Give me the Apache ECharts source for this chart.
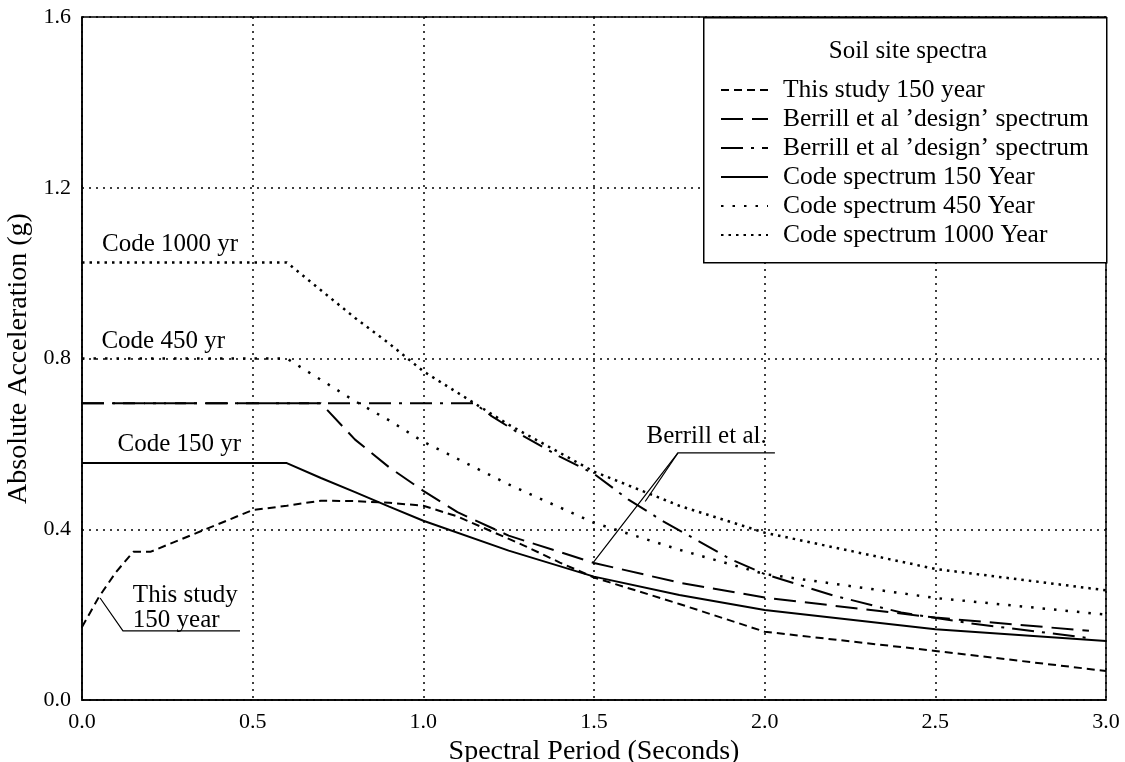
<!DOCTYPE html>
<html>
<head>
<meta charset="utf-8">
<script src="https://cdn.jsdelivr.net/npm/echarts@6/dist/echarts.min.js"></script>
<style>
  html, body { margin: 0; padding: 0; background: #fff; }
  #container { width: 1125px; height: 762px; }
</style>
</head>
<body>
<div id="container"></div>
<script>
var FONT = 'Liberation Serif';

// tick labels
var xTicks = ['0.0', '0.5', '1.0', '1.5', '2.0', '2.5', '3.0'];
var yTicks = ['0.0', '0.4', '0.8', '1.2', '1.6'];

// This study 150 year
var studyT = [0, 0.05, 0.1, 0.15, 0.2, 0.5, 0.6, 0.7, 0.8, 0.9, 1.0, 1.1, 1.2, 1.3, 1.4, 1.5, 1.75, 2.0, 2.5, 3.0];
var studyG = [0.171, 0.242, 0.30, 0.347, 0.347, 0.445, 0.455, 0.467, 0.466, 0.462, 0.455, 0.43, 0.395, 0.36, 0.322, 0.287, 0.225, 0.16, 0.115, 0.068];

// Berrill et al 'design' spectrum (long dash)
var berrillAT = [0, 0.7, 0.8, 0.9, 1.0, 1.1, 1.25, 1.5, 1.75, 2.0, 2.5, 2.95];
var berrillAG = [0.695, 0.695, 0.61, 0.545, 0.49, 0.44, 0.385, 0.321, 0.275, 0.24, 0.193, 0.162];

// Berrill et al 'design' spectrum (dash-dot)
var berrillBT = [0, 1.15, 1.2, 1.3, 1.4, 1.5, 1.6, 1.7, 1.8, 1.9, 2.0, 2.2, 2.4, 2.6, 2.8, 2.95];
var berrillBG = [0.695, 0.695, 0.665, 0.615, 0.57, 0.53, 0.47, 0.42, 0.375, 0.33, 0.295, 0.245, 0.205, 0.18, 0.16, 0.145];

// Code spectra
var codeT = [0, 0.6, 0.7, 0.8, 0.9, 1.0, 1.25, 1.5, 1.75, 2.0, 2.5, 3.0];
var code150 = [0.555, 0.555, 0.52, 0.487, 0.453, 0.42, 0.35, 0.289, 0.246, 0.211, 0.166, 0.138];
var code450 = [0.80, 0.80, 0.75, 0.70, 0.655, 0.605, 0.505, 0.415, 0.352, 0.295, 0.239, 0.20];
var code1000 = [1.025, 1.025, 0.96, 0.895, 0.835, 0.77, 0.645, 0.535, 0.455, 0.392, 0.307, 0.257];

// in-plot labels
var noteText = ['Code 1000 yr', 'Code 450 yr', 'Code 150 yr', 'This study\n150 year', 'Berrill et al.'];
var noteT = [0.258, 0.238, 0.285, 0.149, 1.83];
var noteG = [1.067, 0.84, 0.598, 0.215, 0.617];
var noteAlign = ['center', 'center', 'center', 'left', 'center'];

// leader lines
var leaderStudy = [[0.463, 0.162], [0.12, 0.162], [0.053, 0.239]];
var leaderBerrill = [[2.03, 0.579], [1.746, 0.579], [1.497, 0.321]];
var leaderBerrillMid = [[1.746, 0.579], [1.65, 0.465]];

var legendNames = [
    'This study 150 year',
    'Berrill et al ’design’ spectrum',
    'Berrill et al ’design’ spectrum ',
    'Code spectrum 150 Year',
    'Code spectrum 450 Year',
    'Code spectrum 1000 Year'
];

function pairs(xs, ys) {
    var out = [];
    for (var i = 0; i < xs.length; i++) {
        out.push([xs[i], ys[i]]);
    }
    return out;
}

function lineSeries(name, data, type, width) {
    return {
        name: name,
        type: 'line',
        data: data,
        symbol: 'none',
        smooth: false,
        silent: true,
        lineStyle: { color: '#000', width: width, type: type, cap: 'butt' },
        itemStyle: { color: '#000' },
        z: 2
    };
}

var dom = document.getElementById('container');
var myChart = echarts.init(dom, null, { renderer: 'canvas' });

var noteData = [];
for (var i = 0; i < noteText.length; i++) {
    noteData.push({
        value: [noteT[i], noteG[i]],
        name: noteText[i],
        label: { align: noteAlign[i] }
    });
}

var option = {
    animation: false,
    backgroundColor: '#fff',
    textStyle: { fontFamily: FONT, color: '#000' },
    grid: {
        left: 82, right: 19, top: 17, bottom: 62,
        outerBoundsMode: 'none',
        containLabel: false,
        show: true, borderColor: '#000', borderWidth: 1.5, backgroundColor: 'transparent'
    },
    title: {
        text: 'Soil site spectra',
        left: 903, top: 34,
        textAlign: 'center',
        textStyle: { fontFamily: FONT, fontSize: 25, fontWeight: 'normal', color: '#000' },
        z: 10
    },
    legend: {
        data: legendNames,
        orient: 'vertical',
        left: 720, top: 77,
        padding: 0,
        itemWidth: 47, itemHeight: 14,
        itemGap: 3,
        selectedMode: false,
        itemStyle: { opacity: 0 },
        textStyle: {
            fontFamily: FONT, fontSize: 25.5, lineHeight: 25, color: '#000',
            padding: [0, 0, 0, 10]
        },
        z: 10
    },
    graphic: [{
        type: 'rect',
        left: 703, top: 17,
        shape: { width: 403, height: 245 },
        style: { fill: '#fff', stroke: '#000', lineWidth: 1.5 },
        z: 5
    }],
    xAxis: {
        type: 'value', min: 0, max: 3, interval: 0.5,
        name: 'Spectral Period (Seconds)', nameLocation: 'middle', nameGap: 32,
        nameTextStyle: { fontFamily: FONT, fontSize: 28, color: '#000' },
        axisLine: { show: true, lineStyle: { color: '#000', width: 1.5 } },
        axisTick: { show: false },
        axisLabel: {
            fontFamily: FONT, fontSize: 22, color: '#000', margin: 11,
            formatter: function(v) { return xTicks[Math.round(v / 0.5)]; }
        },
        splitLine: { show: true, lineStyle: { color: '#000', width: 1.5, type: [2, 5] } }
    },
    yAxis: {
        type: 'value', min: 0, max: 1.6, interval: 0.4,
        name: 'Absolute Acceleration (g)', nameLocation: 'middle', nameGap: 43,
        nameTextStyle: { fontFamily: FONT, fontSize: 28, color: '#000' },
        axisLine: { show: true, lineStyle: { color: '#000', width: 1.5 } },
        axisTick: { show: false },
        axisLabel: {
            fontFamily: FONT, fontSize: 22, color: '#000', margin: 11,
            formatter: function(v) { return yTicks[Math.round(v / 0.4)]; }
        },
        splitLine: { show: true, lineStyle: { color: '#000', width: 1.5, type: [2, 5] } }
    },
    series: [
        lineSeries(legendNames[0], pairs(studyT, studyG), [8, 5], 2),
        lineSeries(legendNames[1], pairs(berrillAT, berrillAG), [22, 9], 2),
        lineSeries(legendNames[2], pairs(berrillBT, berrillBG), [22, 8, 3, 8], 2),
        lineSeries(legendNames[3], pairs(codeT, code150), 'solid', 2),
        lineSeries(legendNames[4], pairs(codeT, code450), [2.5, 9], 2.5),
        lineSeries(legendNames[5], pairs(codeT, code1000), [2.5, 5], 2.5),
        {
            name: 'notes',
            type: 'scatter',
            data: noteData,
            symbolSize: 0,
            silent: true,
            itemStyle: { opacity: 1 },
            label: {
                show: true,
                position: [0, 0],
                verticalAlign: 'middle',
                formatter: function(p) { return p.name; },
                fontFamily: FONT, fontSize: 25, lineHeight: 25, color: '#000', opacity: 1
            },
            z: 3
        },
        {
            name: 'leaders',
            type: 'lines',
            coordinateSystem: 'cartesian2d',
            polyline: true,
            silent: true,
            symbol: ['none', 'arrow'],
            symbolSize: [0, 10],
            lineStyle: { color: '#000', width: 1.2, opacity: 1 },
            data: [
                { coords: leaderStudy },
                { coords: leaderBerrill },
                { coords: leaderBerrillMid }
            ],
            z: 3
        }
    ]
};

myChart.setOption(option);
</script>
</body>
</html>
